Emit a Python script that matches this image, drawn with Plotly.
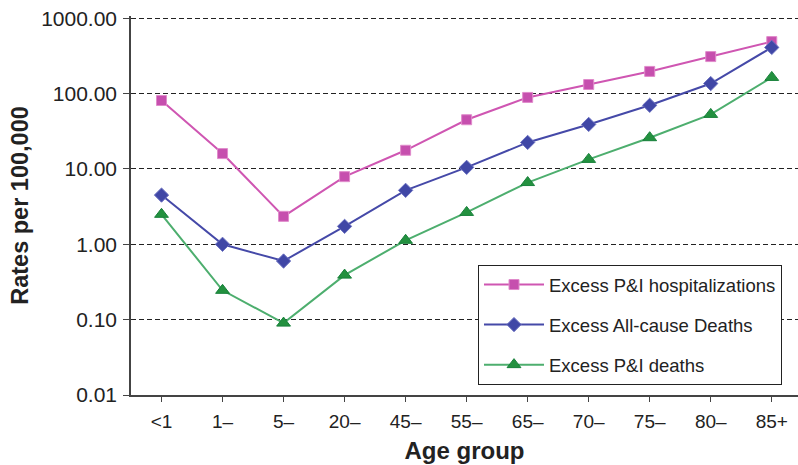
import plotly.graph_objects as go

age_groups = ["<1", "1–", "5–", "20–", "45–", "55–", "65–", "70–", "75–", "80–", "85+"]
hosp = [81, 16, 2.35, 7.9, 17.7, 45, 89, 132, 197, 310, 490]
allcause = [4.5, 1.0, 0.6, 1.73, 5.2, 10.5, 22.5, 39, 70, 136, 410]
pi_deaths = [2.5, 0.245, 0.09, 0.39, 1.13, 2.65, 6.6, 13.4, 26, 53, 164]
ytick_vals = [0.01, 0.1, 1, 10, 100, 1000]
ytick_text = ["0.01", "0.10", "1.00", "10.00", "100.00", "1000.00"]

x_idx = list(range(len(age_groups)))

fig = go.Figure()
fig.add_trace(go.Scatter(
    x=x_idx, y=hosp, mode="lines+markers", name="Excess P&I hospitalizations",
    line=dict(color="#CF56B2", width=2),
    marker=dict(symbol="square", size=10, color="#C64FAE", line=dict(color="#E08BCB", width=1)),
    legendgroup="a"))
fig.add_trace(go.Scatter(
    x=x_idx, y=allcause, mode="lines+markers", name="Excess All-cause Deaths",
    line=dict(color="#4549A8", width=2),
    marker=dict(symbol="diamond", size=11, color="#4047A6", line=dict(color="#6A70C0", width=1)),
    legendgroup="b"))
fig.add_trace(go.Scatter(
    x=x_idx, y=pi_deaths, mode="lines+markers", name="Excess P&I deaths",
    line=dict(color="#4DAE6E", width=2),
    marker=dict(symbol="triangle-up", size=12, color="#23913F", line=dict(color="#17803A", width=1)),
    legendgroup="c"))

fig.update_layout(
    width=798, height=465,
    margin=dict(l=131, r=0, t=16, b=70),
    paper_bgcolor="white", plot_bgcolor="white",
    font=dict(family="Liberation Sans, Arial, sans-serif", color="#222222", size=18),
    showlegend=True,
    legend=dict(
        x=(478 - 131) / (798 - 131), y=1 - (265 - 16) / (395 - 16),
        xanchor="left", yanchor="top",
        bordercolor="#222222", borderwidth=1, bgcolor="white",
        font=dict(size=18.5, color="#222222"),
        traceorder="grouped", tracegroupgap=13, itemwidth=60,
    ),
    xaxis=dict(
        tickmode="array", tickvals=x_idx, ticktext=age_groups,
        range=[-0.5, 10.43], automargin=False,
        showline=True, linecolor="#444444", linewidth=1.5,
        ticks="outside", tickson="boundaries", ticklen=5, tickcolor="#444444",
        showgrid=False, zeroline=False,
        tickfont=dict(size=19), ticklabelstandoff=3,
        title=dict(text="<b>Age group</b>", font=dict(size=24), standoff=12),
    ),
    yaxis=dict(
        type="log", range=[-2, 3.03], automargin=False,
        tickmode="array", tickvals=ytick_vals, ticktext=ytick_text,
        showline=True, linecolor="#444444", linewidth=1.5,
        ticks="outside", ticklen=6, tickcolor="#444444",
        showgrid=True, gridcolor="#222222", griddash="5px,3px", gridwidth=1,
        zeroline=False,
        tickfont=dict(size=21), ticklabelstandoff=2,
        title=dict(text="<b>Rates per 100,000</b>", font=dict(size=23.5), standoff=6),
    ),
)

# remove the browser's default 8px body margin so the figure fills the window exactly
fig.write_html("out.html", config={"displayModeBar": False},
               post_script="document.body.style.margin='0';")
